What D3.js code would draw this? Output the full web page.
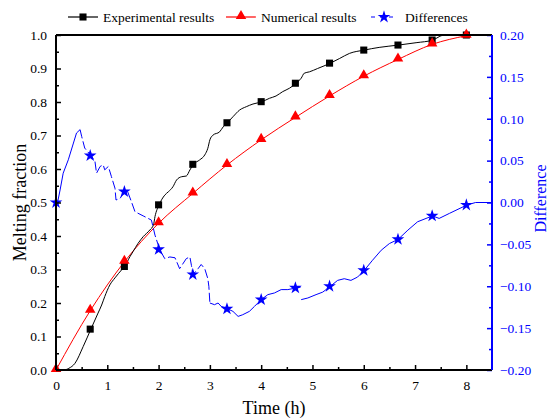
<!DOCTYPE html>
<html>
<head>
<meta charset="utf-8">
<script src="https://cdn.jsdelivr.net/npm/d3@7"></script>
<style>
  body { margin: 0; background: #fff; }
  svg text { font-family: "Liberation Serif", "Times New Roman", serif; }
</style>
</head>
<body>
<svg id="container" width="549" height="420"></svg>
<script>
// marker times (every 40 min)
const markerTimes = [0, 0.667, 1.333, 2, 2.667, 3.333, 4, 4.667, 5.333, 6, 6.667, 7.333, 8];

// experimental melting fraction
const expCurve = [[0,0],[0.15,0],[0.25,0.005],[0.37,0.02],[0.53,0.07],[0.68,0.122],[0.82,0.17],[0.89,0.194],
    [0.95,0.219],[1.05,0.254],[1.15,0.275],[1.28,0.299],[1.34,0.309],[1.44,0.338],[1.5,0.353],[1.6,0.378],
    [1.7,0.398],[1.83,0.418],[1.9,0.433],[1.93,0.458],[2.01,0.493],[2.12,0.522],[2.19,0.532],[2.28,0.547],
    [2.35,0.567],[2.45,0.577],[2.54,0.579],[2.61,0.597],[2.68,0.614],[2.8,0.627],[2.9,0.642],[2.96,0.662],
    [3.0,0.687],[3.06,0.701],[3.19,0.711],[3.26,0.726],[3.34,0.738],[3.45,0.756],[3.58,0.776],[3.71,0.786],
    [3.84,0.794],[4.02,0.801],[4.16,0.811],[4.29,0.818],[4.42,0.831],[4.55,0.841],[4.68,0.856],[4.78,0.871],
    [4.84,0.886],[4.94,0.89],[5.1,0.9],[5.35,0.916],[5.53,0.93],[5.72,0.945],[6.01,0.955],[6.3,0.963],
    [6.68,0.97],[7.02,0.977],[7.35,0.985],[7.47,0.995],[7.57,1.0],[8.5,1.0]];
const expMarkers = [null, 0.122, 0.309, 0.493, 0.614, 0.738, 0.801, 0.856, 0.916, 0.955, 0.97, 0.985, 1.0];

// numerical melting fraction
const numValues = [0, 0.177, 0.323, 0.438, 0.527, 0.612, 0.687, 0.754, 0.818, 0.877, 0.927, 0.972, 0.998];

// difference curve (null = break in the line)
const diffCurve = [[0.03,0],[0.08,0.015],[0.14,0.035],[0.24,0.051],[0.34,0.071],[0.40,0.083],[0.47,0.087],
    [0.50,0.079],[0.56,0.065],[0.68,0.056],[0.76,0.049],[0.79,0.035],[0.86,0.043],[0.92,0.045],[0.95,0.039],
    [1.02,0.043],[1.08,0.031],[1.15,0.017],[1.17,0.003],[1.25,0.005],[1.34,0.013],[1.39,0.014],[1.47,0.001],
    [1.54,-0.011],[1.7,-0.016],[1.86,-0.021],[1.93,-0.039],[2.02,-0.056],[2.12,-0.067],[2.22,-0.065],
    [2.32,-0.066],[2.41,-0.079],[2.54,-0.067],[2.61,-0.065],[2.64,-0.075],[2.67,-0.086],[2.77,-0.079],
    [2.83,-0.074],[2.9,-0.079],[2.96,-0.091],[2.98,-0.1],[3.0,-0.12],[3.09,-0.122],[3.16,-0.12],[3.22,-0.124],
    [3.35,-0.127],[3.45,-0.130],[3.55,-0.136],[3.64,-0.134],[3.77,-0.130],[3.87,-0.124],[4.0,-0.116],
    [4.13,-0.110],[4.26,-0.108],[4.39,-0.104],[4.52,-0.104],[4.68,-0.102],[4.77,-0.101],null,
    [4.78,-0.116],[4.91,-0.114],[5.07,-0.110],[5.2,-0.107],[5.35,-0.1],[5.49,-0.093],[5.62,-0.091],
    [5.75,-0.093],[5.88,-0.089],[6.01,-0.081],[6.17,-0.069],[6.34,-0.057],[6.5,-0.049],[6.67,-0.044],
    [6.86,-0.033],[7.05,-0.023],[7.34,-0.016],[7.47,-0.019],[7.67,-0.013],[8.01,-0.003],[8.18,0],[8.5,0]];
const diffMarkers = [0, 0.056, 0.013, -0.056, -0.086, -0.127, -0.116, -0.102, -0.1, -0.081, -0.044, -0.016, -0.003];

const xTicks = [0, 1, 2, 3, 4, 5, 6, 7, 8];
const yTicks = [0, 0.1, 0.2, 0.3, 0.4, 0.5, 0.6, 0.7, 0.8, 0.9, 1.0];
const y2Ticks = [-0.2, -0.15, -0.1, -0.05, 0, 0.05, 0.1, 0.15, 0.2];
const legendLabels = ["Experimental results", "Numerical results", "Differences"];

const svg = d3.select('#container');
const margin = { top: 35, right: 57, bottom: 50, left: 56 };
const width = 549 - margin.left - margin.right;
const height = 420 - margin.top - margin.bottom;
const blue = '#0000ff';

const x = d3.scaleLinear().domain([0, 8.5]).range([0, width]);
const y = d3.scaleLinear().domain([0, 1]).range([height, 0]);
const y2 = d3.scaleLinear().domain([-0.2, 0.2]).range([height, 0]);

const g = svg.append('g').attr('transform', 'translate(' + margin.left + ',' + margin.top + ')');

svg.append('defs').append('clipPath').attr('id', 'clip')
    .append('rect').attr('width', width).attr('height', height);

const plot = g.append('g').attr('clip-path', 'url(#clip)');

// numerical line
plot.append('path')
    .datum(markerTimes.map((t, i) => [t, numValues[i]]))
    .attr('fill', 'none').attr('stroke', '#ff0000').attr('stroke-width', 1)
    .attr('d', d3.line().x(d => x(d[0])).y(d => y(d[1])).curve(d3.curveMonotoneX));

// experimental line
plot.append('path')
    .datum(expCurve)
    .attr('fill', 'none').attr('stroke', '#000').attr('stroke-width', 1)
    .attr('d', d3.line().x(d => x(d[0])).y(d => y(d[1])).curve(d3.curveMonotoneX));

// difference line: dashed in the middle part, solid elsewhere
const diffLine = d3.line().defined(d => d !== null).x(d => x(d[0])).y(d => y2(d[1]));
const inDash = d => d !== null && d[0] >= 0.47 && d[0] <= 3.0;
plot.append('path')
    .datum(diffCurve.filter(d => d === null || d[0] <= 0.47))
    .attr('fill', 'none').attr('stroke', blue).attr('stroke-width', 1).attr('d', diffLine);
plot.append('path')
    .datum(diffCurve.filter(inDash))
    .attr('fill', 'none').attr('stroke', blue).attr('stroke-width', 1)
    .attr('stroke-dasharray', '9,3').attr('d', diffLine);
plot.append('path')
    .datum(diffCurve.filter(d => d === null || d[0] >= 3.0))
    .attr('fill', 'none').attr('stroke', blue).attr('stroke-width', 1).attr('d', diffLine);

// markers
const sq = d3.symbol().type(d3.symbolSquare).size(50);
const tri = d3.symbol().type(d3.symbolTriangle).size(48);
const star = d3.symbol().type(d3.symbolStar).size(50);

g.selectAll('.sq').data(markerTimes.map((t, i) => [t, expMarkers[i]]).filter(d => d[1] !== null))
    .enter().append('path').attr('d', sq).attr('fill', '#000')
    .attr('transform', d => 'translate(' + x(d[0]) + ',' + y(d[1]) + ')');
g.selectAll('.tri').data(markerTimes.map((t, i) => [t, numValues[i]]))
    .enter().append('path').attr('d', tri).attr('fill', '#ff0000')
    .attr('transform', d => 'translate(' + x(d[0]) + ',' + (y(d[1]) - 1) + ')');
g.selectAll('.star').data(markerTimes.map((t, i) => [t, diffMarkers[i]]))
    .enter().append('path').attr('d', star).attr('fill', blue)
    .attr('transform', d => 'translate(' + x(d[0]) + ',' + y2(d[1]) + ')');

// axes
function styleAxis(sel, color) {
    sel.select('.domain').remove();
    sel.selectAll('line').attr('stroke', color).attr('stroke-width', 1.5);
    sel.selectAll('text').attr('fill', color).style('font-size', '13.5px');
}

const xMinor = d3.range(0.5, 8.5, 1);
g.append('g').attr('transform', 'translate(0,' + height + ')')
    .call(d3.axisBottom(x).tickValues(xMinor).tickSize(-3).tickFormat(''))
    .call(s => styleAxis(s, '#000'));
g.append('g').attr('transform', 'translate(0,' + height + ')')
    .call(d3.axisBottom(x).tickValues(xTicks).tickSize(-5).tickPadding(10).tickFormat(d3.format('d')))
    .call(s => styleAxis(s, '#000'));

const yMinor = d3.range(0.05, 1, 0.1);
g.append('g')
    .call(d3.axisLeft(y).tickValues(yMinor).tickSize(-3).tickFormat(''))
    .call(s => styleAxis(s, '#000'));
g.append('g')
    .call(d3.axisLeft(y).tickValues(yTicks).tickSize(-5).tickPadding(9).tickFormat(d3.format('.1f')))
    .call(s => styleAxis(s, '#000'));

const y2Minor = d3.range(-0.175, 0.2, 0.05);
g.append('g').attr('transform', 'translate(' + width + ',0)')
    .call(d3.axisRight(y2).tickValues(y2Minor).tickSize(-3).tickFormat(''))
    .call(s => styleAxis(s, blue));
g.append('g').attr('transform', 'translate(' + width + ',0)')
    .call(d3.axisRight(y2).tickValues(y2Ticks).tickSize(-5).tickPadding(8).tickFormat(d3.format('.2f')))
    .call(s => styleAxis(s, blue));

// frame
g.append('line').attr('x1', 0).attr('x2', width).attr('y1', 0).attr('y2', 0).attr('stroke', '#000').attr('stroke-width', 2);
g.append('line').attr('x1', 0).attr('x2', width).attr('y1', height).attr('y2', height).attr('stroke', '#000').attr('stroke-width', 2);
g.append('line').attr('x1', 0).attr('x2', 0).attr('y1', 0).attr('y2', height).attr('stroke', '#000').attr('stroke-width', 2);
g.append('line').attr('x1', width).attr('x2', width).attr('y1', 0).attr('y2', height).attr('stroke', blue).attr('stroke-width', 2);

// axis titles
svg.append('text').attr('x', margin.left + width / 2).attr('y', 414).attr('text-anchor', 'middle')
    .style('font-size', '18px').text('Time (h)');
svg.append('text').attr('transform', 'translate(26,' + (margin.top + height / 2) + ') rotate(-90)')
    .attr('text-anchor', 'middle').style('font-size', '18px').text('Melting fraction');
svg.append('text').attr('transform', 'translate(546,' + (margin.top + height / 2 - 4) + ') rotate(-90)')
    .attr('text-anchor', 'middle').attr('fill', blue).style('font-size', '16px').text('Difference');

// legend
const legend = svg.append('g').attr('transform', 'translate(0,17)');
const items = [
    { x: 68, color: '#000', sym: sq, dash: null },
    { x: 226, color: '#ff0000', sym: tri, dash: null },
    { x: 371, color: blue, sym: star, dash: '4,5' }
];
items.forEach((it, i) => {
    const w = i === 2 ? 26 : 30;
    legend.append('line').attr('x1', it.x).attr('x2', it.x + w).attr('y1', 0).attr('y2', 0)
        .attr('stroke', it.color).attr('stroke-width', 1.2).attr('stroke-dasharray', it.dash);
    legend.append('path').attr('d', it.sym).attr('fill', it.color)
        .attr('transform', 'translate(' + (it.x + w / 2) + ',' + (i === 1 ? -1 : 0) + ')');
    legend.append('text').attr('x', it.x + w + (i === 2 ? 8 : 5)).attr('y', 5)
        .style('font-size', '13.5px').text(legendLabels[i]);
});
</script>
</body>
</html>
